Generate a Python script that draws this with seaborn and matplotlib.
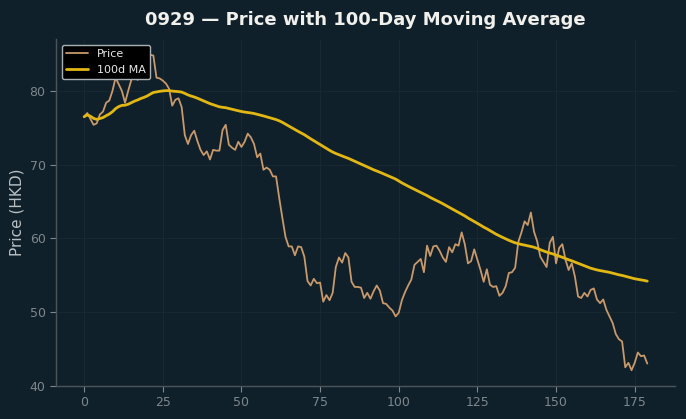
import numpy as np
import pandas as pd
import matplotlib
matplotlib.use("Agg")
import matplotlib.pyplot as plt
import seaborn as sns

price = [
    76.5, 77.0, 76.2, 75.4, 75.6, 76.8, 77.2, 78.4, 78.7, 80.0,
    81.8, 80.9, 80.0, 78.4, 80.0, 81.5, 82.0, 81.5, 82.5, 82.0,
    83.0, 84.9, 84.8, 81.8, 81.7, 81.4, 81.0, 80.3, 78.0, 78.8,
    79.0, 77.8, 74.0, 72.8, 74.0, 74.6, 73.2, 72.0, 71.3, 71.8,
    70.7, 72.0, 71.9, 71.9, 74.7, 75.4, 72.7, 72.3, 72.0, 73.1,
    72.4, 73.1, 74.2, 73.7, 72.8, 71.0, 71.5, 69.3, 69.6, 69.3,
    68.4, 68.4, 65.5, 62.8, 60.2, 58.9, 58.9, 57.7, 58.9, 58.8,
    57.5, 54.2, 53.6, 54.5, 53.9, 54.0, 51.4, 52.3, 51.6, 52.6,
    56.1, 57.4, 56.7, 58.0, 57.4, 54.1, 53.4, 53.4, 53.3, 51.9,
    52.6, 51.8, 52.8, 53.6, 52.9, 51.2, 51.1, 50.6, 50.2, 49.4,
    49.9, 51.6, 52.7, 53.6, 54.4, 56.4, 56.8, 57.2, 55.4, 59.0,
    57.6, 58.9, 59.0, 58.3, 57.4, 56.8, 58.8, 58.1, 59.2, 59.0,
    60.8, 59.2, 56.6, 56.9, 58.5, 57.1, 55.7, 54.1, 55.8, 53.7,
    53.4, 53.5, 52.2, 52.6, 53.5, 55.3, 55.4, 56.0, 59.5, 60.8,
    62.3, 61.8, 63.5, 60.9, 59.6, 57.5, 56.8, 56.1, 59.4, 60.2,
    56.6, 58.7, 59.2, 57.1, 55.7, 56.6, 54.8, 52.1, 51.9, 52.6,
    52.1, 53.0, 53.2, 51.7, 51.2, 51.7, 50.3, 49.4, 48.5, 47.0,
    46.3, 46.0, 42.5, 43.1, 42.1, 43.1, 44.5, 44.0, 44.1, 43.0,
]
days = list(range(len(price)))
ma_window = 100

df = pd.DataFrame({"day": days, "price": price})
df["ma"] = df["price"].rolling(ma_window, min_periods=1).mean()

BG = "#10202a"
sns.set_theme(style="dark")
plt.rcParams["font.family"] = ["DejaVu Sans"]

fig = plt.figure(figsize=(6.86, 4.19), dpi=100, facecolor=BG)
ax = fig.add_axes([0.0816, 0.0788, 0.903, 0.828])
ax.set_facecolor(BG)

sns.lineplot(data=df, x="day", y="price", ax=ax, color="#c8996b", lw=1.3,
             label="Price")
sns.lineplot(data=df, x="day", y="ma", ax=ax, color="#e2b714", lw=2.0,
             label="100d MA")

ax.set_xticks([0, 25, 50, 75, 100, 125, 150, 175])
ax.set_yticks([40, 50, 60, 70, 80])
ax.grid(True, color="#182831", lw=0.8)
for s in ["top", "right"]:
    ax.spines[s].set_visible(False)
for s in ["left", "bottom"]:
    ax.spines[s].set_color("#4a5459")
    ax.spines[s].set_linewidth(1.0)
ax.tick_params(colors="#7d878c", labelsize=9, length=4, width=0.8,
               bottom=True, left=True)
ax.set_xlabel("")
ax.set_ylabel("Price (HKD)", color="#b8c0c4", fontsize=11)
ax.set_title("0929 — Price with 100-Day Moving Average", color="#f0f0ec",
             fontsize=13, fontweight="bold", pad=10)

leg = ax.legend(loc="upper left", fontsize=8, facecolor="#000000",
                edgecolor="#aab0b4", framealpha=1.0, borderaxespad=0.5)
for t in leg.get_texts():
    t.set_color("#e8e8e8")
leg.get_frame().set_linewidth(1.0)

fig.savefig("out.png", dpi=100, facecolor=BG)
